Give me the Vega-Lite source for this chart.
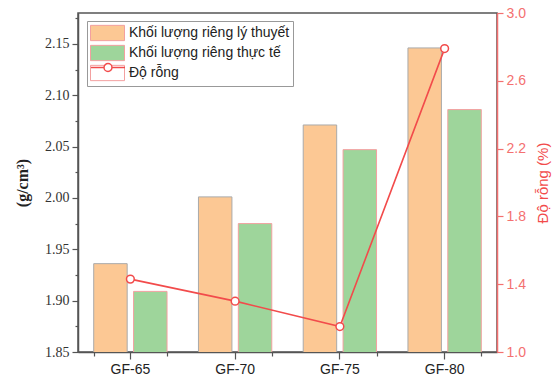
{
  "$schema": "https://vega.github.io/schema/vega-lite/v6.json",
  "autosize": "none",
  "width": 419,
  "height": 339,
  "padding": {"left": 78, "top": 13, "right": 61, "bottom": 39},
  "background": "white",
  "config": {
    "view": {"stroke": "#555", "strokeWidth": 1.5},
    "font": "Liberation Sans",
    "axis": {"labelOverlap": false},
    "axisRight": {"labelOverlap": false},
    "axisQuantitative": {"labelOverlap": false}
  },
  "datasets": {
    "bars": [
      {"cat": "GF-65", "series": "Khối lượng riêng lý thuyết", "value": 1.936},
      {"cat": "GF-65", "series": "Khối lượng riêng thực tế", "value": 1.909},
      {"cat": "GF-70", "series": "Khối lượng riêng lý thuyết", "value": 2.001},
      {"cat": "GF-70", "series": "Khối lượng riêng thực tế", "value": 1.975},
      {"cat": "GF-75", "series": "Khối lượng riêng lý thuyết", "value": 2.071},
      {"cat": "GF-75", "series": "Khối lượng riêng thực tế", "value": 2.047},
      {"cat": "GF-80", "series": "Khối lượng riêng lý thuyết", "value": 2.146},
      {"cat": "GF-80", "series": "Khối lượng riêng thực tế", "value": 2.086}
    ],
    "poro": [
      {"cat": "GF-65", "poro": 1.43},
      {"cat": "GF-70", "poro": 1.30},
      {"cat": "GF-75", "poro": 1.15},
      {"cat": "GF-80", "poro": 2.79}
    ]
  },
  "layer": [
    {
      "data": {"name": "bars"},
      "mark": {"type": "bar", "strokeWidth": 1, "clip": true},
      "encoding": {
        "x": {
          "field": "cat", "type": "nominal",
          "scale": {"paddingInner": 0.3, "paddingOuter": 0.15},
          "axis": {
            "title": null, "labelAngle": 0, "labelFont": "Liberation Sans", "labelFontSize": 14,
            "labelColor": "#222", "tickColor": "#555", "tickSize": 7, "tickWidth": 1.2,
            "domainColor": "#555", "domainWidth": 1.5, "labelPadding": 3
          }
        },
        "xOffset": {"field": "series", "type": "nominal", "scale": {"paddingInner": 0.16, "domain": ["Khối lượng riêng lý thuyết", "Khối lượng riêng thực tế"]}},
        "y": {
          "field": "value", "type": "quantitative",
          "scale": {"domain": [1.85, 2.18], "nice": false, "zero": false},
          "axis": {
            "orient": "left",
            "title": "(g/cm³)",
            "titleFont": "Liberation Serif", "titleFontWeight": "bold", "titleFontSize": 16, "titleColor": "#222",
            "titlePadding": 14,
            "values": [1.85, 1.875, 1.9, 1.925, 1.95, 1.975, 2.0, 2.025, 2.05, 2.075, 2.1, 2.125, 2.15, 2.175],
            "labelExpr": "round(datum.value*1000) % 50 === 0 ? format(datum.value, '.2f') : ''",
            "labelOverlap": false,
            "labelFont": "Liberation Serif", "labelColor": "#333",
            "labelFontSize": {"condition": {"test": "round(datum.value*1000) % 50 === 0", "value": 14}, "value": 0},
            "tickSize": {"condition": {"test": "round(datum.value*1000) % 50 === 0", "value": 6}, "value": 3},
            "tickColor": "#555", "tickWidth": 1.2, "domainColor": "#555", "domainWidth": 1.5,
            "grid": false, "labelPadding": 3
          }
        },
        "color": {
          "field": "series", "type": "nominal",
          "scale": {
            "domain": ["Khối lượng riêng lý thuyết", "Khối lượng riêng thực tế", "Độ rỗng"],
            "range": ["#FCC894", "#9ED59B", "#FFFFFF"]
          },
          "legend": {
            "title": null,
            "orient": "none", "legendX": 9, "legendY": 8,
            "strokeColor": "#999", "padding": 3, "rowPadding": 0,
            "labelFont": "Liberation Sans", "labelFontSize": 14, "labelColor": "#222", "labelOffset": 21, "labelLimit": 400,
            "symbolSize": 289, "symbolStrokeWidth": 1, "symbolOpacity": 1,
            "symbolType": "M-1,-0.9H3V0.9H-1Z",
            "encode": {
              "symbols": {
                "stroke": {"condition": [{"test": "datum.index === 2", "value": "transparent"}, {"test": "datum.index === 0", "value": "#aaa"}], "value": "#F3A0A0"}
              }
            }
          }
        },
        "stroke": {
          "condition": {"test": "datum.series === 'Khối lượng riêng lý thuyết'", "value": "#aaa"},
          "value": "#F3A0A0"
        }
      }
    },
    {
      "data": {"name": "poro"},
      "layer": [
        {
          "mark": {"type": "line", "strokeWidth": 1.6},
          "encoding": {
            "x": {"field": "cat", "type": "nominal",
              "axis": {"orient": "bottom", "tickBand": "extent", "labels": false, "domain": false, "title": null, "tickSize": 4, "tickColor": "#555", "tickWidth": 1.2}},
            "y": {
              "field": "poro", "type": "quantitative",
              "scale": {"domain": [1, 3], "nice": false, "zero": false},
              "axis": {
                "orient": "right",
                "title": "Độ rỗng (%)", "titleColor": "#F24B4B", "titleFont": "Liberation Sans",
                "titleFontSize": 15, "titleFontWeight": "normal", "titleAngle": 270, "titleBaseline": "top", "titlePadding": 10,
                "values": [1.0, 1.2, 1.4, 1.6, 1.8, 2.0, 2.2, 2.4, 2.6, 2.8, 3.0],
                "format": ".1f",
                "labelOverlap": false,
                "labelFont": "Liberation Sans", "labelColor": "#F47070", "labelFontSize": 14,
                "tickSize": 6,
                "tickColor": "#F47070", "tickWidth": 1.2, "domainColor": "#F47070", "domainWidth": 1.5,
                "grid": false, "labelPadding": 3
              }
            },
            "stroke": {
              "datum": "Độ rỗng",
              "scale": {"range": ["#F24B4B"]},
              "legend": {
                "title": null, "orient": "none", "legendX": 12, "legendY": 45, "padding": 0,
                "labelFontSize": 0, "labelExpr": "''",
                "symbolSize": 289, "symbolStrokeWidth": 1.5, "symbolFillColor": "white", "symbolOpacity": 1,
                "symbolType": "M-1,0H0.53M1.47,0H3M0.53,0A0.47,0.47 0 1 1 1.47,0A0.47,0.47 0 1 1 0.53,0"
              }
            }
          }
        },
        {
          "mark": {"type": "point", "shape": "circle", "filled": true, "fill": "white", "stroke": "#F24B4B", "strokeWidth": 1.5, "size": 60, "opacity": 1},
          "encoding": {
            "x": {"field": "cat", "type": "nominal"},
            "y": {"field": "poro", "type": "quantitative"}
          }
        }
      ]
    }
  ],
  "resolve": {"scale": {"y": "independent"}, "axis": {"x": "independent"}}
}
